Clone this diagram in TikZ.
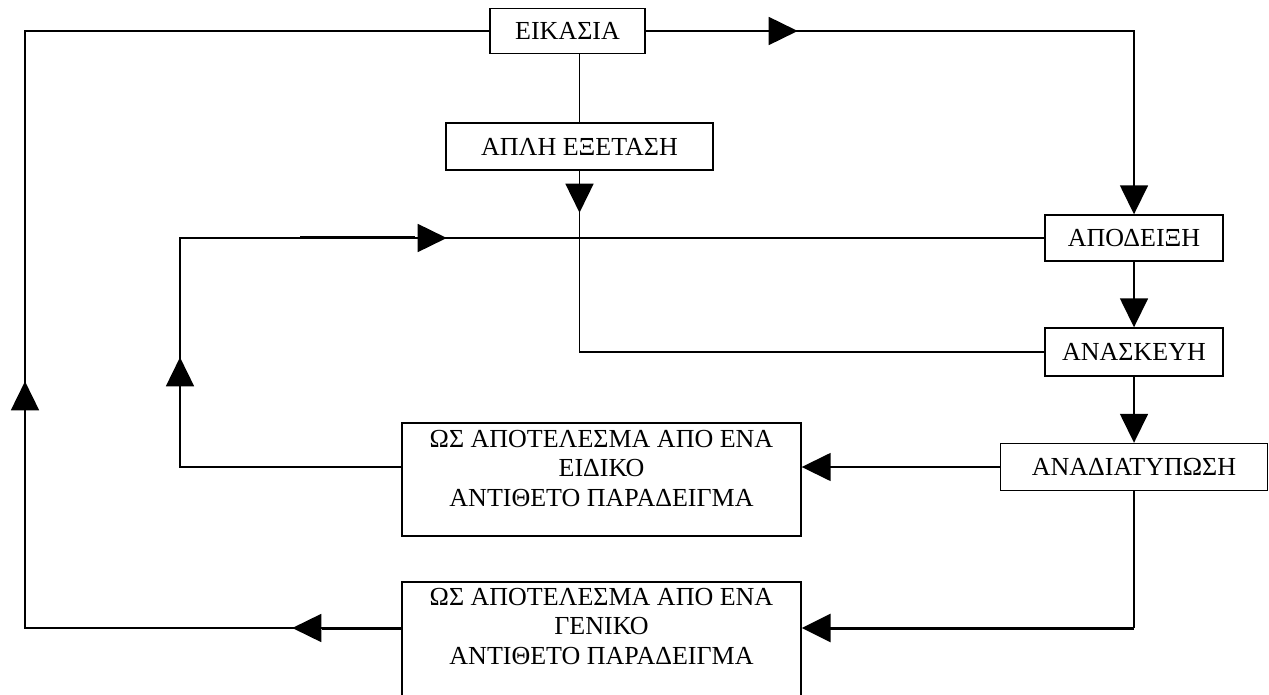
\documentclass[tikz,border=0pt]{standalone}
\usepackage{fontspec}
\setmainfont{Liberation Serif}
\usetikzlibrary{arrows.meta,decorations.markings}
\tikzset{
  tri/.tip={Triangle[length=29pt,width=28pt]},
  box/.style={draw, line width=1.4pt, inner sep=0pt, font=\fontsize{26}{29.5}\selectfont},
  conn/.style={line width=1.6pt},
  heavy/.style={line width=3pt},
}
\begin{document}
\begin{tikzpicture}[x=1pt,y=-1pt]
\useasboundingbox (0,0) rectangle (1269,695);
% boxes
\node[box, minimum width=155pt, minimum height=45pt] (eik) at (567.5,31) {ΕΙΚΑΣΙΑ};
\node[box, minimum width=267pt, minimum height=47pt] (apli) at (579.5,146.5) {ΑΠΛΗ ΕΞΕΤΑΣΗ};
\node[box, minimum width=178pt, minimum height=46pt] (apod) at (1134,238) {ΑΠΟΔΕΙΞΗ};
\node[box, minimum width=178pt, minimum height=48pt] (anask) at (1134,352) {ΑΝΑΣΚΕΥΗ};
\node[box, minimum width=267pt, minimum height=47pt] (anad) at (1134,467) {ΑΝΑΔΙΑΤΥΠΩΣΗ};
\node[box] (b1) at (601.5,479.5) {\parbox[c][113pt][t]{399pt}{\centering\vspace{7pt}ΩΣ ΑΠΟΤΕΛΕΣΜΑ ΑΠΟ ΕΝΑ\\ ΕΙΔΙΚΟ\\ ΑΝΤΙΘΕΤΟ ΠΑΡΑΔΕΙΓΜΑ}};
\node[box] (b2) at (601.5,646) {\parbox[c][128pt][t]{399pt}{\centering\vspace{6pt}ΩΣ ΑΠΟΤΕΛΕΣΜΑ ΑΠΟ ΕΝΑ\\ ΓΕΝΙΚΟ\\ ΑΝΤΙΘΕΤΟ ΠΑΡΑΔΕΙΓΜΑ}};
% helper coordinates
\coordinate (lowline) at (0,628);
\coordinate (leftx) at (180,0);
\coordinate (farx) at (25,0);
% connectors
\draw[conn, -{tri}, decoration={markings, mark=at position 152pt with {\arrow{tri}}}, postaction=decorate]
  (eik.east) -| (apod.north);
\draw[conn] (eik.south -| apli.north) -- (apli.north);
\draw[conn, decoration={markings, mark=at position 42pt with {\arrow{tri}}}, postaction=decorate]
  (apli.south) |- (anask.west);
\draw[conn, decoration={markings, mark=at position 331pt with {\arrow{tri}}, mark=at position 717pt with {\arrow{tri}}}, postaction=decorate]
  (b1.west |- anad.west) -| (leftx |- apod.west) -- (apod.west);
\draw[heavy] (300,238) -- (415,238);
\draw[conn, -{tri}] (apod.south) -- (anask.north);
\draw[conn, -{tri}] (anask.south) -- (anad.north);
\draw[conn, -{tri}] (anad.west) -- (b1.east |- anad.west);
\coordinate (c8) at (anad.south |- lowline);
\draw[conn] (anad.south) -- (c8);
\draw[heavy, -{tri}] (c8) -- (b2.east |- lowline);
\draw[conn, decoration={markings, mark=at position 109pt with {\arrow{tri}}, mark=at position 623pt with {\arrow{tri}}}, postaction=decorate]
  (b2.west |- lowline) -- (farx |- lowline) -- (farx |- eik.west) -- (eik.west);
\draw[heavy] (b2.west |- lowline) -- (322,628);
\end{tikzpicture}
\end{document}
